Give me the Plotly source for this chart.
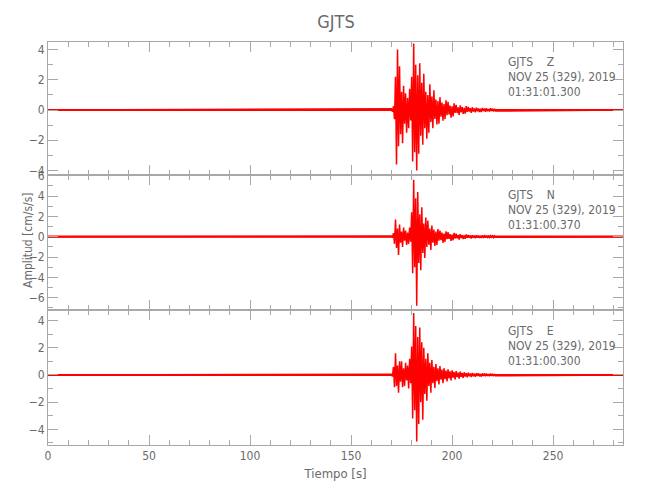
import numpy as np
import plotly.graph_objects as go
from plotly.subplots import make_subplots

# ---------------- data ----------------
station = "GJTS"
components = ["Z", "N", "E"]
start_times = ["01:31:01.300", "01:31:00.370", "01:31:00.300"]
date_label = "NOV 25 (329), 2019"

t_end = 284.6          # record length [s]
t0 = 170.0             # start of the active window [s]
dt = 0.5               # sample step in the active window [s]

z_amp = [
    0.08, -0.12, 0.25, -0.6,
    2.2, -3.6, 4.0, -2.4,
    2.9, -1.6, 1.2, -2.2,
    1.6, -0.9, 1.1, -1.5,
    0.8, -1.2, 1.4, -0.7,
    2.2, -3.4, 4.4, -2.8,
    3.0, -4.0, 2.3, -2.9,
    3.1, -1.7, 1.8, -2.3,
    2.4, -1.2, 1.2, -1.9,
    1.0, -1.5, 1.7, -0.8,
    0.9, -1.2, 1.3, -0.6,
    0.7, -0.95, 0.6, -0.9,
    0.85, -0.45, 0.5, -0.7,
    0.4, -0.6, 0.65, -0.35,
    0.55, -0.3, 0.3, -0.5,
    0.25, -0.42, 0.45, -0.2,
    0.35, -0.2, 0.18, -0.33,
    0.3, -0.15, 0.2, -0.25,
    0.14, -0.24, 0.26, -0.12,
    0.2, -0.1, 0.12, -0.19,
    0.18, -0.1, 0.1, -0.16, 0.15, -0.09, 0.1, -0.14,
    0.08, -0.13, 0.14, -0.07, 0.1, -0.12, 0.12, -0.08,
    0.07, -0.1, 0.11, -0.06, 0.09, -0.1, 0.08, -0.07,
]

n_amp = [
    0.05, -0.08, 0.35, -0.7,
    1.7, -1.1, 0.8, -1.8,
    1.2, -0.6, 0.5, -1.0,
    0.9, -0.4, 0.6, -0.8,
    0.4, -0.7, 0.9, -0.5,
    2.4, -3.6, 5.6, -3.0,
    3.8, -6.8, 4.4, -2.6,
    2.2, -3.3, 2.9, -1.6,
    1.3, -2.1, 1.9, -1.0,
    1.6, -0.8, 0.8, -1.3,
    1.1, -0.6, 0.7, -0.9,
    0.5, -0.8, 0.75, -0.4,
    0.6, -0.35, 0.4, -0.6,
    0.3, -0.5, 0.52, -0.25,
    0.45, -0.22, 0.25, -0.4,
    0.2, -0.35, 0.38, -0.18,
    0.3, -0.16, 0.18, -0.28,
    0.26, -0.13, 0.15, -0.22,
    0.12, -0.2, 0.22, -0.1,
    0.18, -0.1, 0.1, -0.17,
    0.15, -0.08, 0.09, -0.14, 0.13, -0.08, 0.09, -0.12,
    0.07, -0.11, 0.12, -0.06, 0.09, -0.1, 0.1, -0.07,
    0.06, -0.09, 0.1, -0.05, 0.08, -0.08, 0.07, -0.06,
]

e_amp = [
    0.05, -0.1, 0.6, -0.9,
    1.6, -0.8, 0.7, -1.3,
    1.0, -0.5, 1.0, -0.9,
    0.5, -0.8, 0.9, -0.4,
    0.7, -1.0, 1.2, -0.6,
    2.1, -3.2, 4.55, -2.6,
    3.6, -4.9, 2.8, -3.6,
    3.5, -2.0, 2.4, -3.3,
    2.0, -1.4, 1.2, -1.9,
    1.6, -0.8, 0.9, -1.3,
    1.1, -0.6, 0.6, -0.95,
    0.8, -0.45, 0.5, -0.7,
    0.65, -0.35, 0.4, -0.6,
    0.5, -0.3, 0.32, -0.48,
    0.42, -0.25, 0.26, -0.4,
    0.34, -0.2, 0.22, -0.32,
    0.28, -0.16, 0.18, -0.27,
    0.24, -0.13, 0.15, -0.22,
    0.2, -0.11, 0.13, -0.18,
    0.17, -0.1, 0.11, -0.15,
    0.15, -0.09, 0.1, -0.14, 0.13, -0.08, 0.12, -0.1,
    0.08, -0.12, 0.12, -0.07, 0.1, -0.1, 0.11, -0.07,
    0.07, -0.09, 0.1, -0.06, 0.08, -0.09, 0.07, -0.06,
]

y_ranges = [[-4.3, 4.5], [-7.22, 6.08], [-5.15, 4.78]]
x_ticks = [0, 50, 100, 150, 200, 250]

# ---------------- figure ----------------
RED = "#ff0000"
AXC = "#a8a8a8"
TXT = "#6a6a6a"
FONT = "Liberation Sans Narrow, DejaVu Sans Condensed, Roboto, sans-serif"

fig = make_subplots(rows=3, cols=1, shared_xaxes=True, vertical_spacing=0)

amps = [z_amp, n_amp, e_amp]
for i, amp in enumerate(amps):
    t = t0 + dt * np.arange(len(amp))
    x = np.concatenate([[0.0], t, [t_end]])
    y = np.concatenate([[0.0], amp, [0.0]])
    # baseline (thick quiet trace)
    fig.add_trace(go.Scatter(x=[0.0, t_end], y=[0.0, 0.0], mode="lines",
                             line=dict(color=RED, width=2.2), hoverinfo="skip",
                             showlegend=False), row=i + 1, col=1)
    fig.add_trace(go.Scatter(x=x, y=y, mode="lines",
                             line=dict(color=RED, width=1.5), showlegend=False),
                  row=i + 1, col=1)

# page is offset by the default 8px body margin
H = 403.0
doms = [[270 / H, 1.0], [135 / H, 270 / H], [0.0, 135 / H]]
for i in range(3):
    fig.update_yaxes(row=i + 1, col=1, range=y_ranges[i], domain=doms[i],
                     dtick=2, tick0=0, ticks="inside", ticklen=10, tickwidth=1,
                     tickcolor=AXC, showline=True, linecolor=AXC, linewidth=1,
                     mirror="allticks", showgrid=False, zeroline=False,
                     minor=dict(dtick=1, tick0=0, ticks="inside", ticklen=5,
                                tickcolor=AXC, showgrid=False),
                     tickfont=dict(family=FONT, size=12, color=TXT))
    fig.update_xaxes(row=i + 1, col=1, range=[0, t_end], tickvals=x_ticks,
                     ticks="inside", ticklen=10, tickwidth=1, tickcolor=AXC,
                     showline=True, linecolor=AXC, linewidth=1,
                     mirror="allticks", showgrid=False, zeroline=False,
                     minor=dict(dtick=10, tick0=0, ticks="inside", ticklen=5,
                                tickcolor=AXC, showgrid=False),
                     tickfont=dict(family=FONT, size=12, color=TXT))
fig.update_xaxes(row=3, col=1, showticklabels=True,
                 title=dict(text="Tiempo [s]", standoff=6,
                            font=dict(family=FONT, size=13, color=TXT)))

annotations = []
line_y = [[62, 77, 92], [195, 210, 225], [331, 346, 361]]
for i, comp in enumerate(components):
    lines = [station + "\u00a0\u00a0\u00a0\u00a0" + comp, date_label, start_times[i]]
    for j, txt in enumerate(lines):
        annotations.append(dict(x=(506 - 48) / 575.0, y=(445 - line_y[i][j]) / H,
                                xref="paper", yref="paper", text=txt,
                                showarrow=False, xanchor="left", yanchor="middle",
                                font=dict(family=FONT, size=12, color=TXT)))
annotations.append(dict(x=(28 - 48) / 575.0, y=(445 - 240) / H, xref="paper", yref="paper",
                        text="Amplitud [cm/s/s]", textangle=-90, showarrow=False,
                        xanchor="center", yanchor="middle",
                        font=dict(family=FONT, size=12, color=TXT)))

fig.update_layout(
    width=650, height=500,
    margin=dict(l=40, r=35, t=34, b=63),
    paper_bgcolor="white", plot_bgcolor="white",
    title=dict(text=station, x=(336 - 8) / 650, xanchor="center", y=1 - (22 - 8) / 500,
               yanchor="middle", font=dict(family=FONT, size=18, color=TXT)),
    annotations=annotations,
    showlegend=False,
)

fig.write_html("out.html")
